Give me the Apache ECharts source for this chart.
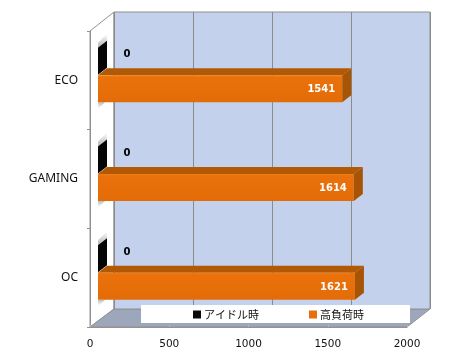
<!DOCTYPE html>
<html>
<head>
<meta charset="utf-8">
<script src="https://cdn.jsdelivr.net/npm/echarts@6/dist/echarts.min.js"></script>
<style>
  html, body { margin: 0; padding: 0; background: #ffffff; }
  #chart { width: 450px; height: 360px; }
</style>
</head>
<body>
<div id="chart"></div>
<script>
var categories = ['ECO', 'GAMING', 'OC'];
var idleName = 'アイドル時';
var loadName = '高負荷時';
var idleValues = [0, 0, 0];
var loadValues = [1541, 1614, 1621];
var xTicks = [0, 500, 1000, 1500, 2000];

var chart = echarts.init(document.getElementById('chart'));

// builds the [value, category] pairs for the custom series
function pairs(values) {
  return values.map(function (v, i) { return [v, categories[i]]; });
}

// fake 3D box: front face + top face + right side face
function box3d(colors, yShift, labelFn) {
  return function (params, api) {
    var end = api.coord([api.value(0), api.value(1)]);
    var start = api.coord([0, api.value(1)]);
    var x0 = start[0] + 8, x1 = end[0] + 8;
    var yc = end[1] - 6 + yShift;
    var top = yc - 13.5, bottom = yc + 13.5;
    var dx = 9, dy = -7;
    var children = [];
    // soft shadow on the side wall
    if (colors.shadowUp) {
      children.push({
        type: 'polygon',
        shape: { points: [[x0, top - 5], [x0 + dx, top + dy - 7], [x0 + dx, top + dy + 1], [x0, top + 1]] },
        style: {
          fill: new echarts.graphic.LinearGradient(0, 0, 0, 1, [
            { offset: 0, color: 'rgba(90,90,90,0)' },
            { offset: 1, color: 'rgba(90,90,90,0.5)' }
          ])
        }
      });
    } else {
      children.push({
        type: 'polygon',
        shape: { points: [[x0, bottom], [x0 + 7, bottom], [x0 + 1, bottom + 6], [x0, bottom + 6]] },
        style: {
          fill: new echarts.graphic.LinearGradient(0, 0, 0, 1, [
            { offset: 0, color: 'rgba(90,90,90,0.4)' },
            { offset: 1, color: 'rgba(90,90,90,0)' }
          ])
        }
      });
    }
    if (x1 > x0) {
      children.push({
        type: 'polygon',
        shape: { points: [[x0, top], [x0 + dx, top + dy], [x1 + dx, top + dy], [x1, top]] },
        style: { fill: colors.top }
      });
      children.push({
        type: 'rect',
        shape: { x: x0, y: top, width: x1 - x0, height: bottom - top },
        style: {
          fill: new echarts.graphic.LinearGradient(0, 0, 0, 1, [
            { offset: 0, color: '#f27e12' },
            { offset: 0.08, color: '#ea710b' },
            { offset: 1, color: '#e46c08' }
          ])
        }
      });
    }
    children.push({
      type: 'polygon',
      shape: { points: [[x1, top], [x1 + dx, top + dy], [x1 + dx, bottom + dy], [x1, bottom]] },
      style: { fill: colors.side }
    });
    children.push(labelFn(api.value(0), x0, x1, top, yc));
    return { type: 'group', children: children };
  };
}

var option = {
  animation: false,
  backgroundColor: '#ffffff',
  textStyle: { fontFamily: 'DejaVu Sans' },
  // back wall carries the gridlines, the front plane carries the labels
  grid: [
    { left: 114, right: 20, top: 12, bottom: 51, show: true, backgroundColor: '#c3d1ed', borderColor: '#8f8f8f', borderWidth: 1 },
    { left: 90, right: 43, top: 31, bottom: 33, show: false }
  ],
  xAxis: [
    {
      gridIndex: 0, type: 'value', min: 0, max: 2000, interval: 500,
      axisLabel: { show: false }, axisTick: { show: false }, axisLine: { show: false },
      splitLine: { show: true, lineStyle: { color: '#8c8c8c', width: 1 } }
    },
    {
      gridIndex: 1, type: 'value', min: xTicks[0], max: xTicks[xTicks.length - 1], interval: 500,
      axisLine: { show: true, onZero: false, lineStyle: { color: '#929292' } },
      axisTick: { show: true, inside: true, length: 2, lineStyle: { color: '#b5b5b5' } },
      axisLabel: { color: '#111111', fontSize: 10.5, margin: 12, formatter: function (v) { return String(v); } },
      splitLine: { show: false }
    }
  ],
  yAxis: [
    {
      gridIndex: 0, type: 'category', data: categories, inverse: true,
      axisLabel: { show: false }, axisTick: { show: false }, axisLine: { show: false },
      splitLine: { show: false }
    },
    {
      gridIndex: 1, type: 'category', data: categories, inverse: true,
      axisLine: { show: true, onZero: false, lineStyle: { color: '#929292' } },
      axisTick: { show: true, length: 3, lineStyle: { color: '#929292' } },
      axisLabel: { color: '#111111', fontFamily: 'Noto Sans', fontSize: 12, margin: 12 },
      splitLine: { show: false }
    }
  ],
  legend: {
    left: 141, top: 305,
    backgroundColor: '#ffffff',
    padding: [4, 46, 3, 52],
    itemWidth: 8, itemHeight: 8, itemGap: 50,
    icon: 'rect',
    data: [idleName, loadName],
    textStyle: { fontFamily: '"Noto Sans CJK JP"', fontSize: 11, color: '#111111', padding: [0, 0, 0, -2] }
  },
  graphic: [
    // left wall
    { type: 'polygon', z: -1, shape: { points: [[90, 31], [114, 12], [114, 309], [90, 327]] }, style: { fill: '#ffffff', stroke: '#929292', lineWidth: 1 } },
    // floor
    { type: 'polygon', z: -1, shape: { points: [[90, 327], [114, 309], [430, 309], [407, 327]] }, style: { fill: '#9ca7bc', stroke: '#929292', lineWidth: 1 } }
  ],
  series: [
    {
      name: idleName, type: 'custom', xAxisIndex: 1, yAxisIndex: 1, z: 5,
      itemStyle: { color: '#0a0a0a' },
      data: pairs(idleValues),
      renderItem: box3d({ top: '#222222', side: '#050505', shadowUp: true }, -13, function (v, x0, x1, top, yc) {
        return {
          type: 'text',
          style: { x: x1 + 29, y: yc - 6.5, text: String(v), fill: '#000000', font: 'bold 10px "DejaVu Sans"', textAlign: 'center', textVerticalAlign: 'middle' }
        };
      })
    },
    {
      name: loadName, type: 'custom', xAxisIndex: 1, yAxisIndex: 1, z: 6,
      itemStyle: { color: '#e8700c' },
      data: pairs(loadValues),
      renderItem: box3d({ top: '#b25906', side: '#a85405' }, 14.5, function (v, x0, x1, top, yc) {
        return {
          type: 'text',
          style: { x: x1 - 7, y: yc + 1, text: String(v), fill: '#ffffff', font: 'bold 10px "DejaVu Sans"', textAlign: 'right', textVerticalAlign: 'middle' }
        };
      })
    }
  ]
};

chart.setOption(option);
window.addEventListener('resize', function () { chart.resize(); });
</script>
</body>
</html>
